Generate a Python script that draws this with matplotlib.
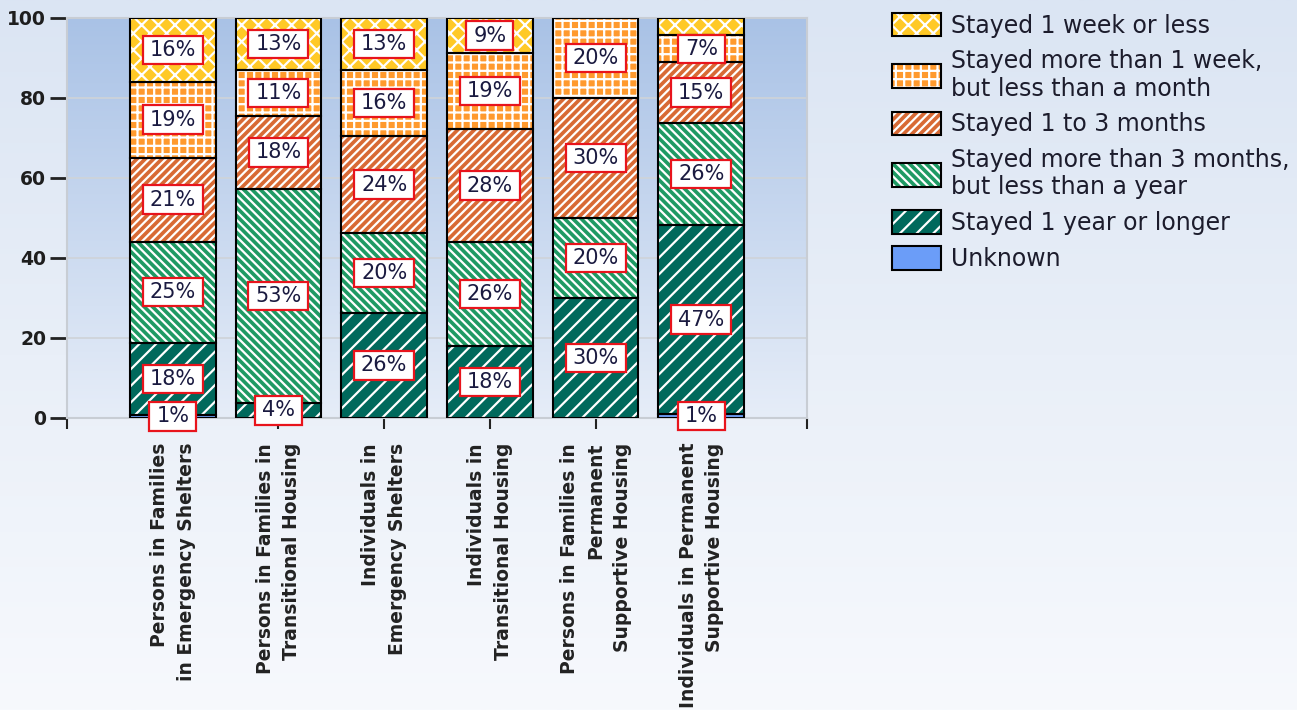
import numpy as np
import matplotlib.pyplot as plt
from matplotlib.patches import Patch
from matplotlib.path import Path
from matplotlib.colors import LinearSegmentedColormap

plt.rcParams['hatch.linewidth'] = 1.6

categories = ['Persons in Families\nin Emergency Shelters',
              'Persons in Families in\nTransitional Housing',
              'Individuals in\nEmergency Shelters',
              'Individuals in\nTransitional Housing',
              'Persons in Families in\nPermanent\nSupportive Housing',
              'Individuals in Permanent\nSupportive Housing']

# percent of stayers, stacked bottom -> top
unknown       = [0.8, 0.0, 0.0, 0.0, 0.0, 1.0]
year_plus     = [18.0, 3.8, 26.3, 17.9, 30.0, 47.2]
three_mo_year = [25.3, 53.4, 19.9, 26.1, 20.0, 25.6]
one_to_three  = [21.0, 18.4, 24.3, 28.2, 30.0, 15.1]
week_to_month = [19.0, 11.3, 16.4, 19.0, 20.0, 6.8]
week_or_less  = [15.9, 13.1, 13.1, 8.8, 0.0, 4.3]

series = [unknown, year_plus, three_mo_year, one_to_three, week_to_month, week_or_less]
names = ['Unknown', 'Stayed 1 year or longer',
         'Stayed more than 3 months,\nbut less than a year',
         'Stayed 1 to 3 months',
         'Stayed more than 1 week,\nbut less than a month',
         'Stayed 1 week or less']
colors = ['#6b9df8', '#00695c', '#1f9a64', '#d86a35', '#ff9a2e', '#ffc926']
hatches = [None, '//', '\\\\\\\\', '////', '++', 'xx']


def label_box(x0, y0, width, height, mutation_size):
    px, py = 0.33 * mutation_size, 0.2 * mutation_size
    return Path([(x0 - px, y0 - py), (x0 + width + px, y0 - py),
                 (x0 + width + px, y0 + height + py), (x0 - px, y0 + height + py),
                 (x0 - px, y0 - py)], closed=True)


fig = plt.figure(figsize=(12.97, 7.10), dpi=100)

# soft page gradient
bg = fig.add_axes([0, 0, 1, 1], zorder=-10)
bg.axis('off')
grad = np.linspace(0, 1, 256).reshape(-1, 1)
bg.imshow(grad, cmap=LinearSegmentedColormap.from_list('page', ['#dbe5f3', '#f7f9fd']),
          aspect='auto', extent=[0, 1, 0, 1])

ax = fig.add_axes([0.0517, 0.4113, 0.5705, 0.5634])
ax.patch.set_visible(False)
ax.imshow(grad, cmap=LinearSegmentedColormap.from_list('plot', ['#a9c2e6', '#e6edf8']),
          aspect='auto', extent=[0, 7, 0, 100], zorder=-1)

x = np.arange(1, len(categories) + 1)
width = 0.81
bottom = np.zeros(len(categories))
centers = []
for vals, fc, h in zip(series, colors, hatches):
    vals = np.array(vals)
    ax.bar(x, vals, width, bottom=bottom, color=fc, edgecolor='white',
           hatch=h, linewidth=0, zorder=2)
    ax.bar(x, vals, width, bottom=bottom, fill=False, edgecolor='black',
           linewidth=1.5, zorder=3)
    centers.append(bottom + vals / 2)
    bottom = bottom + vals

# value labels, skipping ones that would collide with the label below
for i in range(len(categories)):
    last = -100
    for s, vals in enumerate(series):
        v = vals[i]
        c = centers[s][i]
        if round(v) < 1 or c - last < 7:
            continue
        ax.text(x[i], c, f'{v:.0f}%', ha='center', va='center', fontsize=15,
                color='#1a1a40', zorder=5, clip_on=False,
                bbox=dict(boxstyle=label_box, facecolor='white',
                          edgecolor='#e8141c', linewidth=1.6))
        last = c

ax.set_xlim(0, 7)
ax.set_ylim(0, 100)
ax.set_yticks(np.arange(0, 101, 20))
ax.set_yticklabels([str(t) for t in range(0, 101, 20)], fontweight='bold',
                   fontsize=13.5, color='#1e1e1e')
ax.set_xticks(np.arange(0, 8))
ax.set_xticklabels([''] + categories + [''], rotation=90, ha='center', va='top',
                   multialignment='right', fontweight='bold', fontsize=13.5,
                   color='#222222', linespacing=1.5)
ax.tick_params(axis='y', length=12, width=2, color='#222222', pad=3)
ax.tick_params(axis='x', length=8, width=1.5, color='#222222', pad=10)
for sp in ax.spines.values():
    sp.set_color('#c8cdd4')
    sp.set_linewidth(1.5)
ax.yaxis.grid(True, color='#cfd3d8', linewidth=1.2)
ax.set_axisbelow(True)

handles = []
for fc, h in zip(colors, hatches):
    handles.append((Patch(facecolor=fc, edgecolor='white', hatch=h, linewidth=0),
                    Patch(fill=False, edgecolor='black', linewidth=1.5)))
leg = fig.legend(handles[::-1], names[::-1], loc='upper left',
                 bbox_to_anchor=(892 / 1297, 1 - 13 / 710), frameon=False,
                 fontsize=17, handlelength=2.07, handleheight=1.15,
                 handletextpad=0.42, labelspacing=0.47, borderpad=0,
                 borderaxespad=0)
for t in leg.get_texts():
    t.set_color('#1c1c2c')

fig.savefig('out.png', dpi=100)
